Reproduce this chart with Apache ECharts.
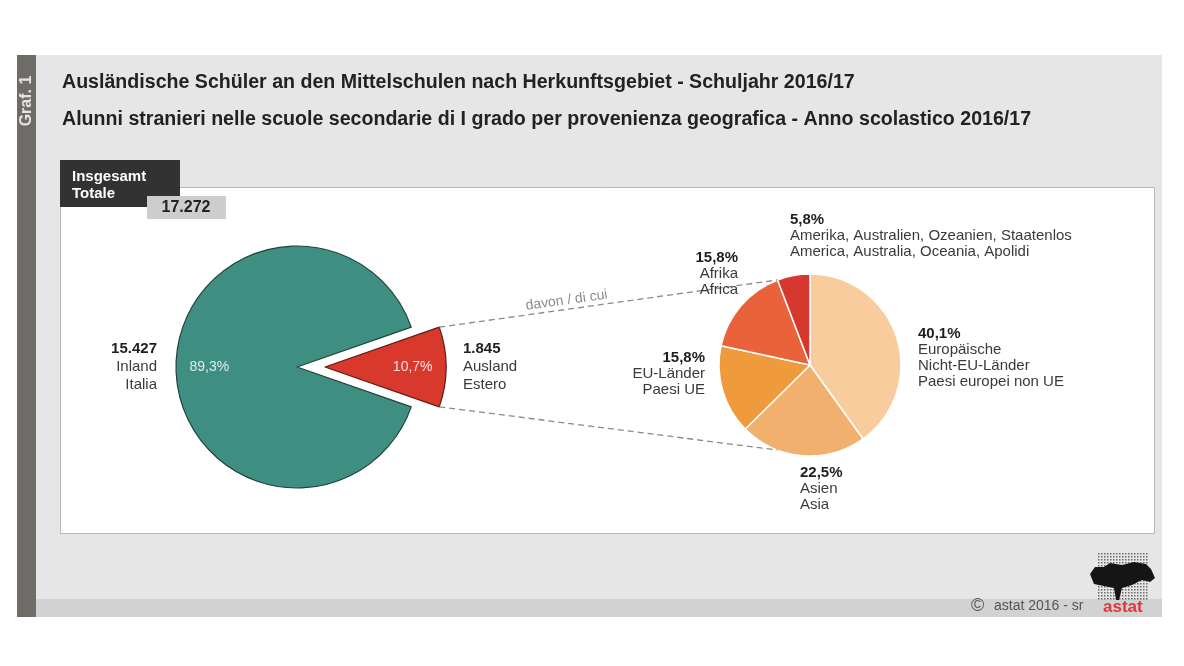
<!DOCTYPE html>
<html><head><meta charset="utf-8">
<script src="https://cdn.jsdelivr.net/npm/echarts@6/dist/echarts.min.js"></script>
<style>html,body{margin:0;padding:0;background:#fff}#c{width:1184px;height:666px}</style>
</head><body><div id="c"></div>
<script>
// ---- data ----
const titleDe = 'Ausländische Schüler an den Mittelschulen nach Herkunftsgebiet - Schuljahr 2016/17';
const titleIt = 'Alunni stranieri nelle scuole secondarie di I grado per provenienza geografica - Anno scolastico 2016/17';
const totalLabel = ['Insgesamt', 'Totale'];
const totalValue = '17.272';
const mainNames = ['Inland', 'Ausland'];
const mainSubNames = [['Inland', 'Italia'], ['Ausland', 'Estero']];
const mainValues = [15427, 1845];
const mainValueLabels = ['15.427', '1.845'];
const mainPercentLabels = ['89,3%', '10,7%'];
const subNames = ['Europäische Nicht-EU-Länder', 'Asien', 'EU-Länder', 'Afrika', 'Amerika'];
const subLabelLines = [
  ['Europäische', 'Nicht-EU-Länder', 'Paesi europei non UE'],
  ['Asien', 'Asia'],
  ['EU-Länder', 'Paesi UE'],
  ['Afrika', 'Africa'],
  ['Amerika, Australien, Ozeanien, Staatenlos', 'America, Australia, Oceania, Apolidi']
];
const subValues = [40.1, 22.5, 15.8, 15.8, 5.8];
const subPercentLabels = ['40,1%', '22,5%', '15,8%', '15,8%', '5,8%'];
const connectorText = 'davon / di cui';
const footerText = 'astat 2016 - sr';
const logoText = 'astat';
const sideText = 'Graf. 1';

// ---- styles / layout ----
const FF = '"Liberation Sans", Arial, Helvetica, sans-serif';
const mainColors = ['#3e8f81', '#d9382c'];
const mainBorders = ['#20443d', '#5e1a12'];
const subColors = ['#f8cc9c', '#f1b06d', '#ef9a3c', '#e9623a', '#d6382d'];
const C1 = [297, 367], R1 = 121, OFF = 28;
const C2 = [810, 365], R2 = 91;

const mainTotal = mainValues.reduce((a, b) => a + b, 0);
const halfRed = mainValues[1] / mainTotal * 180; // degrees
const subTotal = subValues.reduce((a, b) => a + b, 0);

const rad = d => d * Math.PI / 180;
// connector geometry computed from data
const apex = [C1[0] + OFF, C1[1]];
const redTop = [apex[0] + R1 * Math.cos(rad(halfRed)), apex[1] - R1 * Math.sin(rad(halfRed))];
const redBot = [apex[0] + R1 * Math.cos(rad(halfRed)), apex[1] + R1 * Math.sin(rad(halfRed))];
const lastStart = (subTotal - subValues[subValues.length - 1]) / subTotal * 360; // deg from top, clockwise
const p2Top = [C2[0] + R2 * Math.sin(rad(lastStart)), C2[1] - R2 * Math.cos(rad(lastStart))];
const mirror = 180 - lastStart;
const p2Bot = [C2[0] + R2 * Math.sin(rad(mirror)), C2[1] - R2 * Math.cos(rad(mirror))];
const lineAng = Math.atan2(p2Top[1] - redTop[1], p2Top[0] - redTop[0]);
const tMid = 0.38;
const davonPos = [redTop[0] + (p2Top[0] - redTop[0]) * tMid + 9 * Math.sin(lineAng),
                  redTop[1] + (p2Top[1] - redTop[1]) * tMid - 9 * Math.cos(lineAng)];

function labelText(pct, lines) {
  return '{b|' + pct + '}\n' + lines.join('\n');
}
function label(x, y, align, txt, lh, fs) {
  return {
    type: 'text', x: x, y: y, z: 100,
    style: {
      text: txt, align: align, textAlign: align, verticalAlign: 'middle', textVerticalAlign: 'middle',
      font: fs + 'px ' + FF, fill: '#3a3a3a', lineHeight: lh,
      rich: { b: { font: 'bold ' + fs + 'px ' + FF, fill: '#1e1e1e', lineHeight: lh } }
    }
  };
}

const graphics = [
  { type: 'rect', z: 0, shape: { x: 17, y: 55, width: 19, height: 562 }, style: { fill: '#6f6c67' } },
  { type: 'rect', z: 0, shape: { x: 36, y: 55, width: 1126, height: 544 }, style: { fill: '#e6e6e6' } },
  { type: 'rect', z: 0, shape: { x: 36, y: 599, width: 1126, height: 18 }, style: { fill: '#d2d2d2' } },
  { type: 'rect', z: 1, shape: { x: 60.5, y: 187.5, width: 1094, height: 346 }, style: { fill: '#ffffff', stroke: '#b8b8b8', lineWidth: 1 } },
  { type: 'rect', z: 5, shape: { x: 60, y: 160, width: 120, height: 47 }, style: { fill: '#323232' } },
  { type: 'rect', z: 6, shape: { x: 147, y: 196, width: 79, height: 23 }, style: { fill: '#cdcdcd' } },
  { type: 'text', z: 7, x: 72, y: 185.5, style: { text: totalLabel.join('\n'), font: 'bold 15px ' + FF, fill: '#ffffff', lineHeight: 17, verticalAlign: 'middle', textVerticalAlign: 'middle' } },
  { type: 'text', z: 7, x: 186, y: 207.5, style: { text: totalValue, font: 'bold 16px ' + FF, fill: '#222', align: 'center', textAlign: 'center', verticalAlign: 'middle', textVerticalAlign: 'middle' } },
  { type: 'text', z: 7, x: 27, y: 101, rotation: Math.PI / 2, style: { text: sideText, font: 'bold 16px ' + FF, fill: '#e4e4e4', align: 'center', textAlign: 'center', verticalAlign: 'middle', textVerticalAlign: 'middle' } },
  // connectors
  { type: 'line', z: 50, shape: { x1: redTop[0], y1: redTop[1], x2: p2Top[0], y2: p2Top[1] }, style: { stroke: '#8a8a8a', lineWidth: 1.3, lineDash: [6, 4] } },
  { type: 'line', z: 50, shape: { x1: redBot[0], y1: redBot[1], x2: p2Bot[0], y2: p2Bot[1] }, style: { stroke: '#8a8a8a', lineWidth: 1.3, lineDash: [6, 4] } },
  { type: 'text', z: 60, x: davonPos[0], y: davonPos[1], rotation: -lineAng, style: { text: connectorText, font: '14px ' + FF, fill: '#8a8a8a', align: 'center', textAlign: 'center', verticalAlign: 'middle', textVerticalAlign: 'middle' } },
  // main pie labels
  label(157, 367, 'right', labelText(mainValueLabels[0], mainSubNames[0]), 18, 15),
  label(463, 367, 'left', labelText(mainValueLabels[1], mainSubNames[1]), 18, 15),
  // sub pie labels
  label(918, 358, 'left', labelText(subPercentLabels[0], subLabelLines[0]), 16, 15),
  label(800, 489, 'left', labelText(subPercentLabels[1], subLabelLines[1]), 16, 15),
  label(705, 374, 'right', labelText(subPercentLabels[2], subLabelLines[2]), 16, 15),
  label(738, 274, 'right', labelText(subPercentLabels[3], subLabelLines[3]), 16, 15),
  label(790, 236, 'left', labelText(subPercentLabels[4], subLabelLines[4]), 16, 15),
  // footer
  { type: 'text', z: 10, x: 971, y: 606, style: { text: '\u00A9', font: '18px ' + FF, fill: '#555', verticalAlign: 'middle', textVerticalAlign: 'middle' } },
  { type: 'text', z: 10, x: 994, y: 606, style: { text: footerText, font: '14px ' + FF, fill: '#555', verticalAlign: 'middle', textVerticalAlign: 'middle' } },
  { type: 'text', z: 10, x: 1103, y: 607, style: { text: logoText, font: 'bold 17px ' + FF, fill: '#e0363a', verticalAlign: 'middle', textVerticalAlign: 'middle' } }
];
// logo dot grid (decoration)
for (let gx = 1098; gx <= 1148; gx += 3) {
  for (let gy = 553; gy <= 599; gy += 3) {
    graphics.push({ type: 'rect', z: 8, shape: { x: gx, y: gy, width: 1.5, height: 1.5 }, style: { fill: '#6a6a6a' } });
  }
}
graphics.push({ type: 'polygon', z: 9, shape: { points: [[1090,574],[1095,567],[1104,567],[1110,563],[1122,565],[1134,562],[1146,564],[1151,569],[1155,578],[1150,582],[1142,580],[1132,585],[1122,588],[1119,600],[1116,600],[1114,588],[1104,586],[1094,584]] }, style: { fill: '#151515' } });

const chart = echarts.init(document.getElementById('c'), null, { renderer: 'canvas' });
chart.setOption({
  backgroundColor: '#ffffff',
  animation: false,
  title: [
    { text: titleDe, left: 62, top: 73, padding: 0, textStyle: { fontFamily: FF, fontSize: 19.6, fontWeight: 'bold', color: '#222' } },
    { text: titleIt, left: 62, top: 110, padding: 0, textStyle: { fontFamily: FF, fontSize: 19.6, fontWeight: 'bold', color: '#222' } }
  ],
  graphic: { elements: graphics },
  series: [
    {
      type: 'pie', z: 20, center: C1, radius: [0, R1], startAngle: 360 - halfRed, clockwise: true,
      selectedMode: 'single', selectedOffset: OFF, avoidLabelOverlap: false,
      emphasis: { disabled: true }, silent: true,
      data: mainValues.map((v, i) => ({
        name: mainNames[i], value: v, selected: i === 1,
        itemStyle: { color: mainColors[i], borderColor: mainBorders[i], borderWidth: 1.2 },
        select: { itemStyle: { color: mainColors[i], borderColor: mainBorders[i], borderWidth: 1.2 } },
        label: { color: i === 0 ? '#d6f0ea' : '#fde3df' }
      })),
      label: { show: true, position: 'inside', fontFamily: FF, fontSize: 14,
        formatter: p => mainPercentLabels[p.dataIndex] },
      labelLine: { show: false },
      labelLayout: p => ({ dx: (p.dataIndex === 0 ? -1 : 1) * 0.2 * R1 })
    },
    {
      type: 'pie', z: 20, center: C2, radius: [0, R2], startAngle: 90, clockwise: true,
      avoidLabelOverlap: false, emphasis: { disabled: true }, silent: true,
      data: subValues.map((v, i) => ({ name: subNames[i], value: v, itemStyle: { color: subColors[i] } })),
      itemStyle: { borderColor: '#ffffff', borderWidth: 1.5 },
      label: { show: false }, labelLine: { show: false }
    }
  ]
});
</script>
</body></html>
